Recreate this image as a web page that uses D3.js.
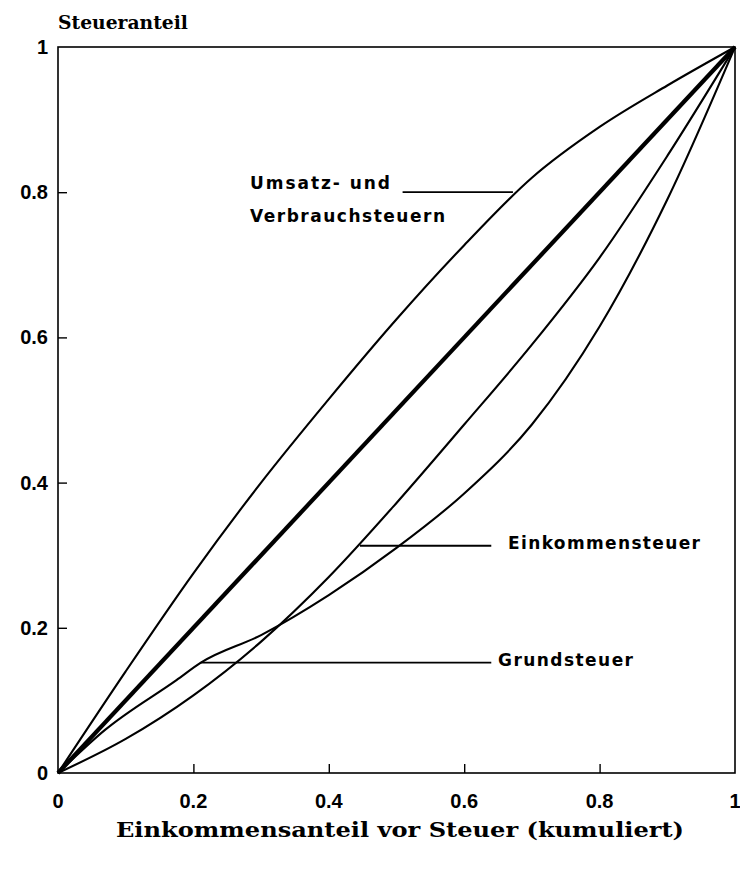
<!DOCTYPE html>
<html>
<head>
<meta charset="utf-8">
<script src="https://cdn.jsdelivr.net/npm/d3@7"></script>
<style>
  html, body { margin: 0; padding: 0; background: #fff; }
  svg { display: block; }
</style>
</head>
<body>
<svg id="chart" width="740" height="869"></svg>
<script>
// ---- data ----
const xTicks = [0, 0.2, 0.4, 0.6, 0.8, 1];
const yTicks = [0, 0.2, 0.4, 0.6, 0.8, 1];
const tickLabels = ["0", "0.2", "0.4", "0.6", "0.8", "1"];

const diagX = [0, 1];
const diagY = [0, 1];

const umsatzX = [0, 0.1, 0.2, 0.3, 0.4, 0.5, 0.6, 0.7, 0.8, 0.9, 1];
const umsatzY = [0, 0.14, 0.275, 0.40, 0.515, 0.625, 0.727, 0.82, 0.89, 0.947, 1];

const einkX = [0, 0.1, 0.2, 0.3, 0.4, 0.5, 0.6, 0.7, 0.8, 0.9, 1];
const einkY = [0, 0.047, 0.107, 0.181, 0.27, 0.372, 0.48, 0.59, 0.71, 0.85, 1];

const grundX = [0, 0.069, 0.175, 0.211, 0.3, 0.4, 0.5, 0.6, 0.7, 0.8, 0.9, 1];
const grundY = [0, 0.059, 0.128, 0.152, 0.19, 0.245, 0.31, 0.385, 0.48, 0.615, 0.79, 1];

const labelUmsatz = ["Umsatz- und", "Verbrauchsteuern"];
const labelEink = "Einkommensteuer";
const labelGrund = "Grundsteuer";
const yTitle = "Steueranteil";
const xTitle = "Einkommensanteil vor Steuer (kumuliert)";

// leader lines: [x start, x end, y] in data units
const leaderUmsatz = [0.509, 0.672, 0.80];
const leaderEink = [0.446, 0.64, 0.313];
const leaderGrund = [0.211, 0.64, 0.152];

// ---- layout ----
const svg = d3.select("#chart");
const x = d3.scaleLinear().domain([0, 1]).range([58, 735]);
const y = d3.scaleLinear().domain([0, 1]).range([773, 47]);

const zip = (xs, ys) => xs.map((v, i) => [v, ys[i]]);
const line = d3.line().x(d => x(d[0])).y(d => y(d[1])).curve(d3.curveMonotoneX);
const straight = d3.line().x(d => x(d[0])).y(d => y(d[1]));

const slab = "'DejaVu Serif', serif";
const sans = "'Liberation Sans', Arial, sans-serif";
const heavy = "'DejaVu Sans', sans-serif";

// frame
svg.append("rect")
  .attr("x", x(0)).attr("y", y(1))
  .attr("width", x(1) - x(0)).attr("height", y(0) - y(1))
  .attr("fill", "none").attr("stroke", "#000").attr("stroke-width", 1.6);

// axes with inward ticks
const xAxis = d3.axisBottom(x).tickValues(xTicks.slice(1, -1)).tickSizeInner(-9).tickSizeOuter(0).tickFormat("");
const gx = svg.append("g").attr("transform", `translate(0,${y(0)})`).call(xAxis);
gx.select(".domain").remove();
gx.selectAll("line").attr("stroke", "#000").attr("stroke-width", 1.4);

const yAxis = d3.axisLeft(y).tickValues(yTicks.slice(1, -1)).tickSizeInner(-9).tickSizeOuter(0).tickFormat("");
const gy = svg.append("g").attr("transform", `translate(${x(0)},0)`).call(yAxis);
gy.select(".domain").remove();
gy.selectAll("line").attr("stroke", "#000").attr("stroke-width", 1.4);

// tick labels
svg.append("g").selectAll("text").data(xTicks).join("text")
  .attr("x", d => x(d)).attr("y", 808)
  .attr("text-anchor", "middle")
  .attr("font-family", sans).attr("font-weight", "bold").attr("font-size", 20)
  .text((d, i) => tickLabels[i]);

svg.append("g").selectAll("text").data(yTicks).join("text")
  .attr("x", 48).attr("y", d => y(d) + 7)
  .attr("text-anchor", "end")
  .attr("font-family", sans).attr("font-weight", "bold").attr("font-size", 20)
  .text((d, i) => tickLabels[i]);

// titles
svg.append("text").attr("x", 58).attr("y", 29)
  .attr("font-family", slab).attr("font-weight", "bold").attr("font-size", 19)
  .attr("textLength", 130).attr("lengthAdjust", "spacingAndGlyphs")
  .text(yTitle);

svg.append("text").attr("x", 116).attr("y", 837)
  .attr("font-family", slab).attr("font-weight", "bold").attr("font-size", 20)
  .attr("textLength", 568).attr("lengthAdjust", "spacingAndGlyphs")
  .text(xTitle);

// curves
svg.append("path").attr("d", straight(zip(diagX, diagY)))
  .attr("fill", "none").attr("stroke", "#000").attr("stroke-width", 4.2);

[[umsatzX, umsatzY], [einkX, einkY], [grundX, grundY]].forEach(([xs, ys]) => {
  svg.append("path").attr("d", line(zip(xs, ys)))
    .attr("fill", "none").attr("stroke", "#000").attr("stroke-width", 2.1)
    .attr("stroke-linejoin", "round");
});

// leader lines
[leaderUmsatz, leaderEink, leaderGrund].forEach(l => {
  svg.append("line")
    .attr("x1", x(l[0])).attr("x2", x(l[1]))
    .attr("y1", y(l[2])).attr("y2", y(l[2]))
    .attr("stroke", "#000").attr("stroke-width", 1.8);
});

// series labels
const lab = (txt, lx, ly, w) => svg.append("text")
  .attr("x", lx).attr("y", ly)
  .attr("font-family", heavy).attr("font-weight", "bold").attr("font-size", 17)
  .attr("textLength", w).attr("lengthAdjust", "spacing")
  .text(txt);

lab(labelUmsatz[0], 250, 189, 140);
lab(labelUmsatz[1], 250, 222, 195);
lab(labelEink, 508, 549, 192);
lab(labelGrund, 498, 666, 135);
</script>
</body>
</html>
